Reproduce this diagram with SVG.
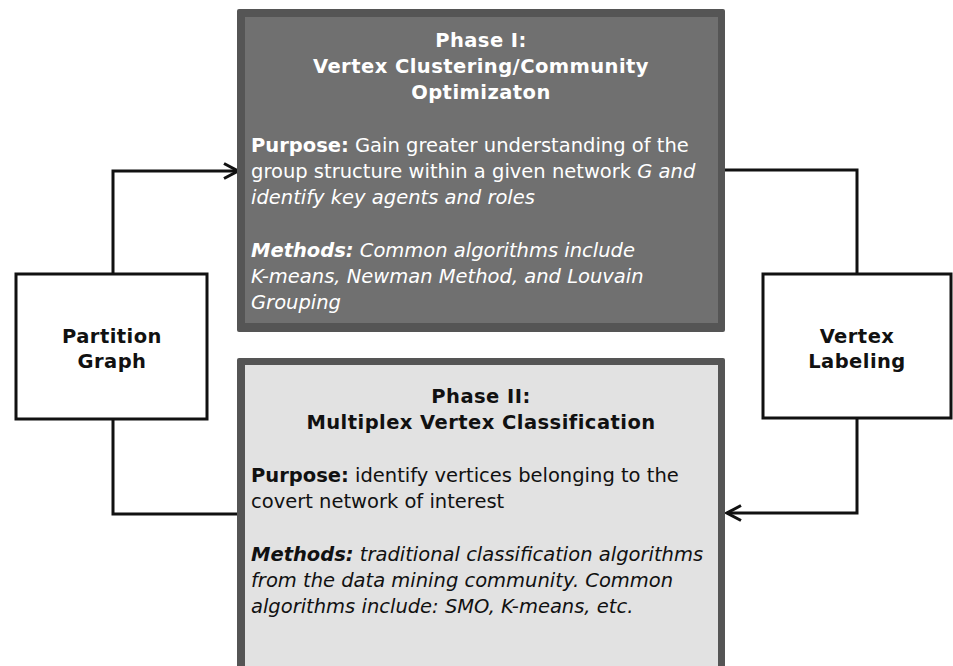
<svg xmlns="http://www.w3.org/2000/svg" width="953" height="666" viewBox="0 0 953 666">
  <defs>
    <style>
      .t { font-family: "DejaVu Sans", Verdana, sans-serif; font-size: 19.5px; }
      .b { font-weight: bold; }
      .h { font-weight: bold; font-size: 19.5px; letter-spacing: 0.45px; }
      .i { font-style: italic; }
      .c { text-anchor: middle; }
      .light { fill: #ffffff; }
      .dark { fill: #111111; }
      .side { fill: #ffffff; stroke: #111111; stroke-width: 3; }
      .conn { fill: none; stroke: #111111; stroke-width: 3; }
    </style>
    <marker id="arrow" viewBox="0 0 18 18" refX="16" refY="9" markerWidth="18" markerHeight="18" markerUnits="userSpaceOnUse" orient="auto">
      <path d="M2,1.5 L16,9 L2,16.5" fill="none" stroke="#111111" stroke-width="3" stroke-linejoin="miter"/>
    </marker>
  </defs>

  <rect width="953" height="666" fill="#ffffff"/>

  <!-- connectors -->
  <g id="connectors">
    <polyline class="conn" points="113,274 113,171 238,171" marker-end="url(#arrow)"/>
    <polyline class="conn" points="113,419 113,514 240,514"/>
    <polyline class="conn" points="724,170 857,170 857,274"/>
    <polyline class="conn" points="857,418 857,513 727,513" marker-end="url(#arrow)"/>
  </g>

  <!-- Phase I -->
  <g id="phase1">
    <rect x="237" y="9" width="488" height="323" fill="#555555" rx="2"/>
    <rect x="245" y="17" width="473" height="306" fill="#707070"/>
    <text class="t h c light" x="481" y="47">Phase I:</text>
    <text class="t h c light" x="481" y="73">Vertex Clustering/Community</text>
    <text class="t h c light" x="481" y="99">Optimizaton</text>
    <text class="t light" x="251" y="152"><tspan class="b">Purpose:</tspan> Gain greater understanding of the</text>
    <text class="t light" x="251" y="178">group structure within a given network <tspan class="i">G and</tspan></text>
    <text class="t i light" x="251" y="204">identify key agents and roles</text>
    <text class="t i light" x="251" y="257"><tspan class="b">Methods:</tspan> Common algorithms include</text>
    <text class="t i light" x="251" y="283">K-means, Newman Method, and Louvain</text>
    <text class="t i light" x="251" y="309">Grouping</text>
  </g>

  <!-- Phase II -->
  <g id="phase2">
    <rect x="237" y="358" width="488" height="320" fill="#555555" rx="2"/>
    <rect x="245" y="365" width="473" height="310" fill="#e2e2e2"/>
    <text class="t h c dark" x="481" y="403">Phase II:</text>
    <text class="t h c dark" x="481" y="429">Multiplex Vertex Classification</text>
    <text class="t dark" x="251" y="482"><tspan class="b">Purpose:</tspan> identify vertices belonging to the</text>
    <text class="t dark" x="251" y="508">covert network of interest</text>
    <text class="t i dark" x="251" y="561"><tspan class="b">Methods:</tspan> traditional classification algorithms</text>
    <text class="t i dark" x="251" y="587">from the data mining community. Common</text>
    <text class="t i dark" x="251" y="613">algorithms include: SMO, K-means, etc.</text>
  </g>

  <!-- Partition Graph -->
  <g id="partition">
    <rect class="side" x="16" y="274" width="191" height="145"/>
    <text class="t h c dark" x="112" y="343">Partition</text>
    <text class="t h c dark" x="112" y="368">Graph</text>
  </g>

  <!-- Vertex Labeling -->
  <g id="labeling">
    <rect class="side" x="763" y="274" width="188" height="144"/>
    <text class="t h c dark" x="857" y="343">Vertex</text>
    <text class="t h c dark" x="857" y="368">Labeling</text>
  </g>
</svg>
